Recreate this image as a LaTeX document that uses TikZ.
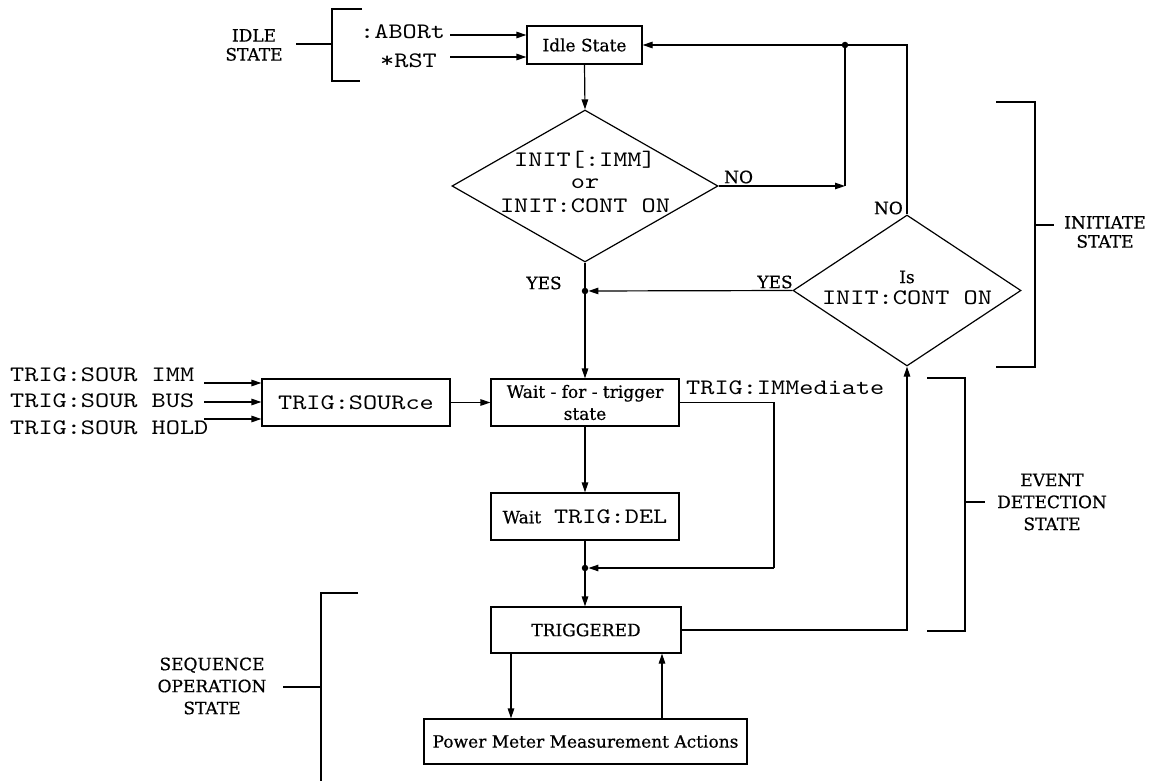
\documentclass[tikz,border=0pt]{standalone}
\usepackage{fontspec}
\setmainfont{DejaVu Serif}
\newfontfamily\srffam{DejaVu Serif}[FakeBold=0.6]
\newfontfamily\monfam{lmmono10-regular.otf}[FakeStretch=1.22]
\newcommand\srfsz{\srffam\fontsize{17}{19}\selectfont}
\newcommand\srfszb{\srffam\fontsize{17}{22}\selectfont}
\newcommand\monsz{\monfam\fontsize{22.1}{21}\selectfont}
\usetikzlibrary{arrows.meta,shapes.geometric}
\begin{document}
\begin{tikzpicture}[x=1pt,y=-1pt,
  box/.style={draw, line width=1.2pt, inner sep=0pt, align=center, font=\srfszb},
  dia/.style={draw, shape=diamond, inner sep=0pt, line width=1.2pt},
  lbl/.style={inner sep=0pt, align=center, font=\srfsz},
  lblb/.style={inner sep=0pt, align=center, font=\srfszb},
  code/.style={inner sep=0pt, align=center, font=\monsz},
  arr/.style={-{Triangle[length=10pt,width=6.5pt]}, line width=1.2pt},
  ln/.style={line width=1.2pt},
  brk/.style={line width=1.3pt},
  jdot/.style={circle, fill, inner sep=0pt, minimum size=6.5pt}]
\fill[white] (0,0) rectangle (1154,781);
\useasboundingbox (0,0) rectangle (1154,781);

% ---------- boxes ----------
\node[box, minimum width=115pt, minimum height=38pt] (idle) at (584.5,45) {Idle State};
\node[box, minimum width=188pt, minimum height=47pt, font=\monsz] (src) at (356,402.5) {TRIG:SOURce};
\node[box, minimum width=188pt, minimum height=47pt] (wait) at (585,402.5) {Wait - for - trigger\\state};
\node[box, minimum width=188pt, minimum height=47pt] (del) at (585,516.5) {Wait\hspace{13pt}{\monsz TRIG:DEL}};
\node[box, minimum width=190pt, minimum height=46pt] (trig) at (586,630) {TRIGGERED};
\node[box, minimum width=323pt, minimum height=45pt] (pm) at (585.5,741.5) {Power Meter Measurement Actions};

% ---------- diamonds ----------
\node[dia, minimum width=266pt, minimum height=152pt] (d1) at (585,186) {};
\node[code] (d1a) at (585,160) {INIT[:IMM]};
\node[code] (d1b) at (585,184) {or};
\node[code] (d1c) at (585,206) {INIT:CONT ON};
\node[dia, minimum width=228pt, minimum height=151pt] (d2) at (907,290.5) {};
\node[lbl] (d2a) at (907,277) {Is};
\node[code] (d2b) at (907,298) {INIT:CONT ON};

% ---------- junction dots ----------
\node[jdot] (j1) at (845,45) {};
\node[jdot] (j2) at (585,291) {};
\node[jdot] (j3) at (585,568) {};
\coordinate (c1) at (845,186);
\coordinate (c2) at (774,568);

% ---------- idle inputs ----------
\node[code, anchor=west] (abort) at (360,32) {:ABORt};
\node[code, anchor=west] (rst) at (380,61) {*RST};
\coordinate (a1) at (450,35);
\coordinate (a2) at (450,57);
\draw[arr] (a1) -- (a1 -| idle.west);
\draw[arr] (a2) -- (a2 -| idle.west);

% ---------- main flow ----------
\draw[arr] (idle.south) -- (d1.north);
\draw[arr] (d1.east) -- (c1);
\node[lbl, anchor=west] (no1) at (724,177) {NO};
\draw[ln] (c1) -- (j1.center);
\draw[arr] (j1) -- (idle.east);
\draw[ln] (d2.north) |- (j1.center);
\node[lbl, anchor=east] (no2) at (903,208) {NO};
\draw[arr] (d1.south) -- (wait.north);
\node[lbl] (yes1) at (544,283) {YES};
\draw[arr] (d2.west) -- (j2);
\node[lbl] (yes2) at (775,282) {YES};

% ---------- trigger source inputs ----------
\node[code, anchor=west] (tsi) at (10,375) {TRIG:SOUR IMM};
\node[code, anchor=west] (tsb) at (10,401) {TRIG:SOUR BUS};
\node[code, anchor=west] (tsh) at (10,428) {TRIG:SOUR HOLD};
\coordinate (s1) at (204,383);
\coordinate (s2) at (204,402);
\coordinate (s3) at (204,419);
\draw[arr] (s1) -- (s1 -| src.west);
\draw[arr] (s2) -- (s2 -| src.west);
\draw[arr] (s3) -- (s3 -| src.west);
\draw[arr] (src.east) -- (wait.west);

% ---------- wait / delay ----------
\draw[arr] (wait.south) -- (del.north);
\draw[ln] (del.south) -- (j3.center);
\draw[arr] (j3.center) -- (j3.center |- trig.north);
\draw[ln] (wait.east) -| (c2);
\draw[arr] (c2) -- (j3);
\node[code, anchor=west] (imm) at (686,388) {TRIG:IMMediate};

% ---------- triggered ----------
\draw[arr] (trig.east) -| (d2.south);
\draw[arr] ([xshift=-75pt]trig.south) -- ([xshift=-75pt]trig.south |- pm.north);
\draw[arr] ([xshift=76pt]trig.south |- pm.north) -- ([xshift=76pt]trig.south);

% ---------- state brackets ----------
\node[lbl] (idlelbl) at (254,45) {IDLE\\STATE};
\draw[brk] (296,44) -- (332,44);
\draw[brk] (362,9) -- (332,9) -- (332,81) -- (360,81);

\node[lbl, anchor=north] (initlbl) at (1105,216) {INITIATE\\STATE};
\draw[brk] (996,102) -- (1035,102) -- (1035,367) -- (996,367);
\draw[brk] (1035,225) -- (1054,225);

\node[lblb] (evlbl) at (1052,502) {EVENT\\DETECTION\\STATE};
\draw[brk] (927,378) -- (965,378) -- (965,631) -- (927,631);
\draw[brk] (965,502) -- (985,502);

\node[lblb] (seqlbl) at (212,686) {SEQUENCE\\OPERATION\\STATE};
\draw[brk] (358,593) -- (321,593) -- (321,781);
\draw[brk] (283,687) -- (321,687);
\end{tikzpicture}
\end{document}
